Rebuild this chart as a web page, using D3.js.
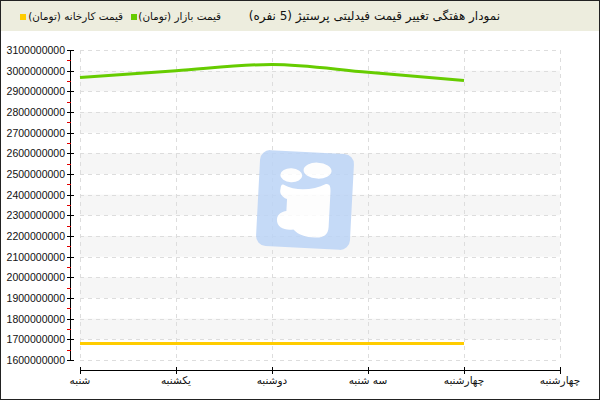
<!DOCTYPE html>
<html>
<head>
<meta charset="utf-8">
<script src="https://cdn.jsdelivr.net/npm/d3@7"></script>
<style>
html,body{margin:0;padding:0;background:#fff;}
svg{display:block;}
</style>
</head>
<body>
<svg id="chart" width="600" height="400"></svg>
<script>
const title = "نمودار هفتگی تغییر قیمت فیدلیتی پرستیژ (5 نفره)";
const tickLabels = ["شنبه","یکشنبه","دوشنبه","سه شنبه","چهارشنبه","چهارشنبه"];
const days = [0,1,2,3,4];
const marketPrice = [2967000000, 3000000000, 3030000000, 2992000000, 2952000000];
const factoryPrice = [1680000000, 1680000000, 1680000000, 1680000000, 1680000000];
const seriesNames = ["قیمت بازار (تومان)", "قیمت کارخانه (تومان)"];
const seriesColors = ["#66cc00", "#ffcc00"];
const yTicks = d3.range(1600000000, 3100000001, 100000000);

const svg = d3.select("#chart");
const W = 600, H = 400;
const faFont = "'DejaVu Sans', sans-serif";
const numFont = "'Liberation Sans', Arial, sans-serif";

// frame & header
svg.append("rect").attr("x",0).attr("y",0).attr("width",W).attr("height",H).attr("fill","#fff");
svg.append("rect").attr("x",0).attr("y",0).attr("width",W).attr("height",31).attr("fill","#ededde");
svg.append("rect").attr("x",0.5).attr("y",0.5).attr("width",W-1).attr("height",H-1)
  .attr("fill","none").attr("stroke","#222").attr("stroke-width",1);

svg.append("text").attr("x",500).attr("y",20).attr("text-anchor","start")
  .attr("direction","rtl")
  .style("font-family",faFont).style("font-size","12px").attr("fill","#111").text(title);

// legend
const legendPos = [{sq:131, tx:221},{sq:20, tx:123}];
seriesNames.forEach((n,i)=>{
  svg.append("rect").attr("x",legendPos[i].sq).attr("y",14).attr("width",6).attr("height",6)
    .attr("fill",seriesColors[i]);
  svg.append("text").attr("x",legendPos[i].tx).attr("y",20).attr("text-anchor","start")
    .attr("direction","rtl")
    .style("font-family",faFont).style("font-size","10.4px").attr("fill","#111").text(n);
});

const x = d3.scaleLinear().domain([0,5]).range([80,560]);
const y = d3.scaleLinear().domain([1600000000,3100000000]).range([360,50]);

const g = svg.append("g");
// bands
yTicks.forEach((v,i)=>{
  if (i < yTicks.length-1 && (Math.round(v/100000000) % 2 === 1)) {
    g.append("rect").attr("x",x(0)).attr("width",x(5)-x(0))
      .attr("y",y(v+100000000)).attr("height",y(v)-y(v+100000000)).attr("fill","#f6f6f6");
  }
});
// grid
g.selectAll(".hg").data(yTicks).enter().append("line")
  .attr("x1",x(0)).attr("x2",x(5)).attr("y1",d=>Math.round(y(d))+0.5).attr("y2",d=>Math.round(y(d))+0.5)
  .attr("stroke","#dddddd").attr("stroke-dasharray","4,4");
g.selectAll(".vg").data(d3.range(0,6)).enter().append("line")
  .attr("y1",y(3100000000)).attr("y2",y(1600000000)).attr("x1",d=>Math.round(x(d))+0.5).attr("x2",d=>Math.round(x(d))+0.5)
  .attr("stroke","#dddddd").attr("stroke-dasharray","4,4");

// watermark
const wm = svg.append("g").attr("transform","translate(305,200) rotate(3)").attr("opacity",0.85);
wm.append("rect").attr("x",-47).attr("y",-48).attr("width",94).attr("height",96).attr("rx",10)
  .attr("fill","#bcd4f6");
wm.append("ellipse").attr("cx",-15).attr("cy",-24).attr("rx",11).attr("ry",7).attr("fill","#fff");
wm.append("ellipse").attr("cx",11).attr("cy",-30).attr("rx",14).attr("ry",8).attr("fill","#fff");
wm.append("path").attr("fill","#fff")
  .attr("d","M-22,-14 C-10,-8 8,-10 20,-17 C24,-18 25,-14 25,-10 L25,26 C25,34 20,37 12,37 C2,37 -5,35 -10,30 C-18,32 -27,29 -27,21 C-27,15 -22,13 -18,12 L-18,0 C-24,-2 -26,-6 -25,-10 C-25,-13 -24,-15 -22,-14 Z");

// y axis
const ya = svg.append("g");
ya.append("line").attr("x1",70.5).attr("x2",70.5).attr("y1",y(3100000000)).attr("y2",y(1600000000)).attr("stroke","#000");
yTicks.forEach(v=>{
  const yy = Math.round(y(v))+0.5;
  ya.append("line").attr("x1",67).attr("x2",74).attr("y1",yy).attr("y2",yy).attr("stroke","#000");
  ya.append("text").attr("x",65).attr("y",y(v)+4).attr("text-anchor","end")
    .style("font-family",numFont).style("font-size","10.5px").attr("fill","#111").text(d3.format("d")(v));
});
yTicks.slice(0,-1).forEach(v=>{
  const yy = Math.round(y(v+50000000))+0.5;
  ya.append("line").attr("x1",67).attr("x2",71).attr("y1",yy).attr("y2",yy).attr("stroke","#e00000");
});

// x axis
const xa = svg.append("g");
xa.append("line").attr("x1",x(0)).attr("x2",x(5)+1).attr("y1",370.5).attr("y2",370.5).attr("stroke","#000");
tickLabels.forEach((t,i)=>{
  const xx = Math.round(x(i))+0.5;
  xa.append("line").attr("x1",xx).attr("x2",xx).attr("y1",367).attr("y2",374).attr("stroke","#000");
  xa.append("text").attr("x",x(i)).attr("y",384).attr("text-anchor","middle").attr("direction","rtl")
    .style("font-family",faFont).style("font-size","10.5px").attr("fill","#111").text(t);
});

// lines
const line = d3.line().x((d,i)=>x(days[i])).y(d=>y(d)).curve(d3.curveMonotoneX);
svg.append("path").datum(factoryPrice).attr("d",line).attr("fill","none")
  .attr("stroke",seriesColors[1]).attr("stroke-width",3);
svg.append("path").datum(marketPrice).attr("d",line).attr("fill","none")
  .attr("stroke",seriesColors[0]).attr("stroke-width",3);
</script>
</body>
</html>
